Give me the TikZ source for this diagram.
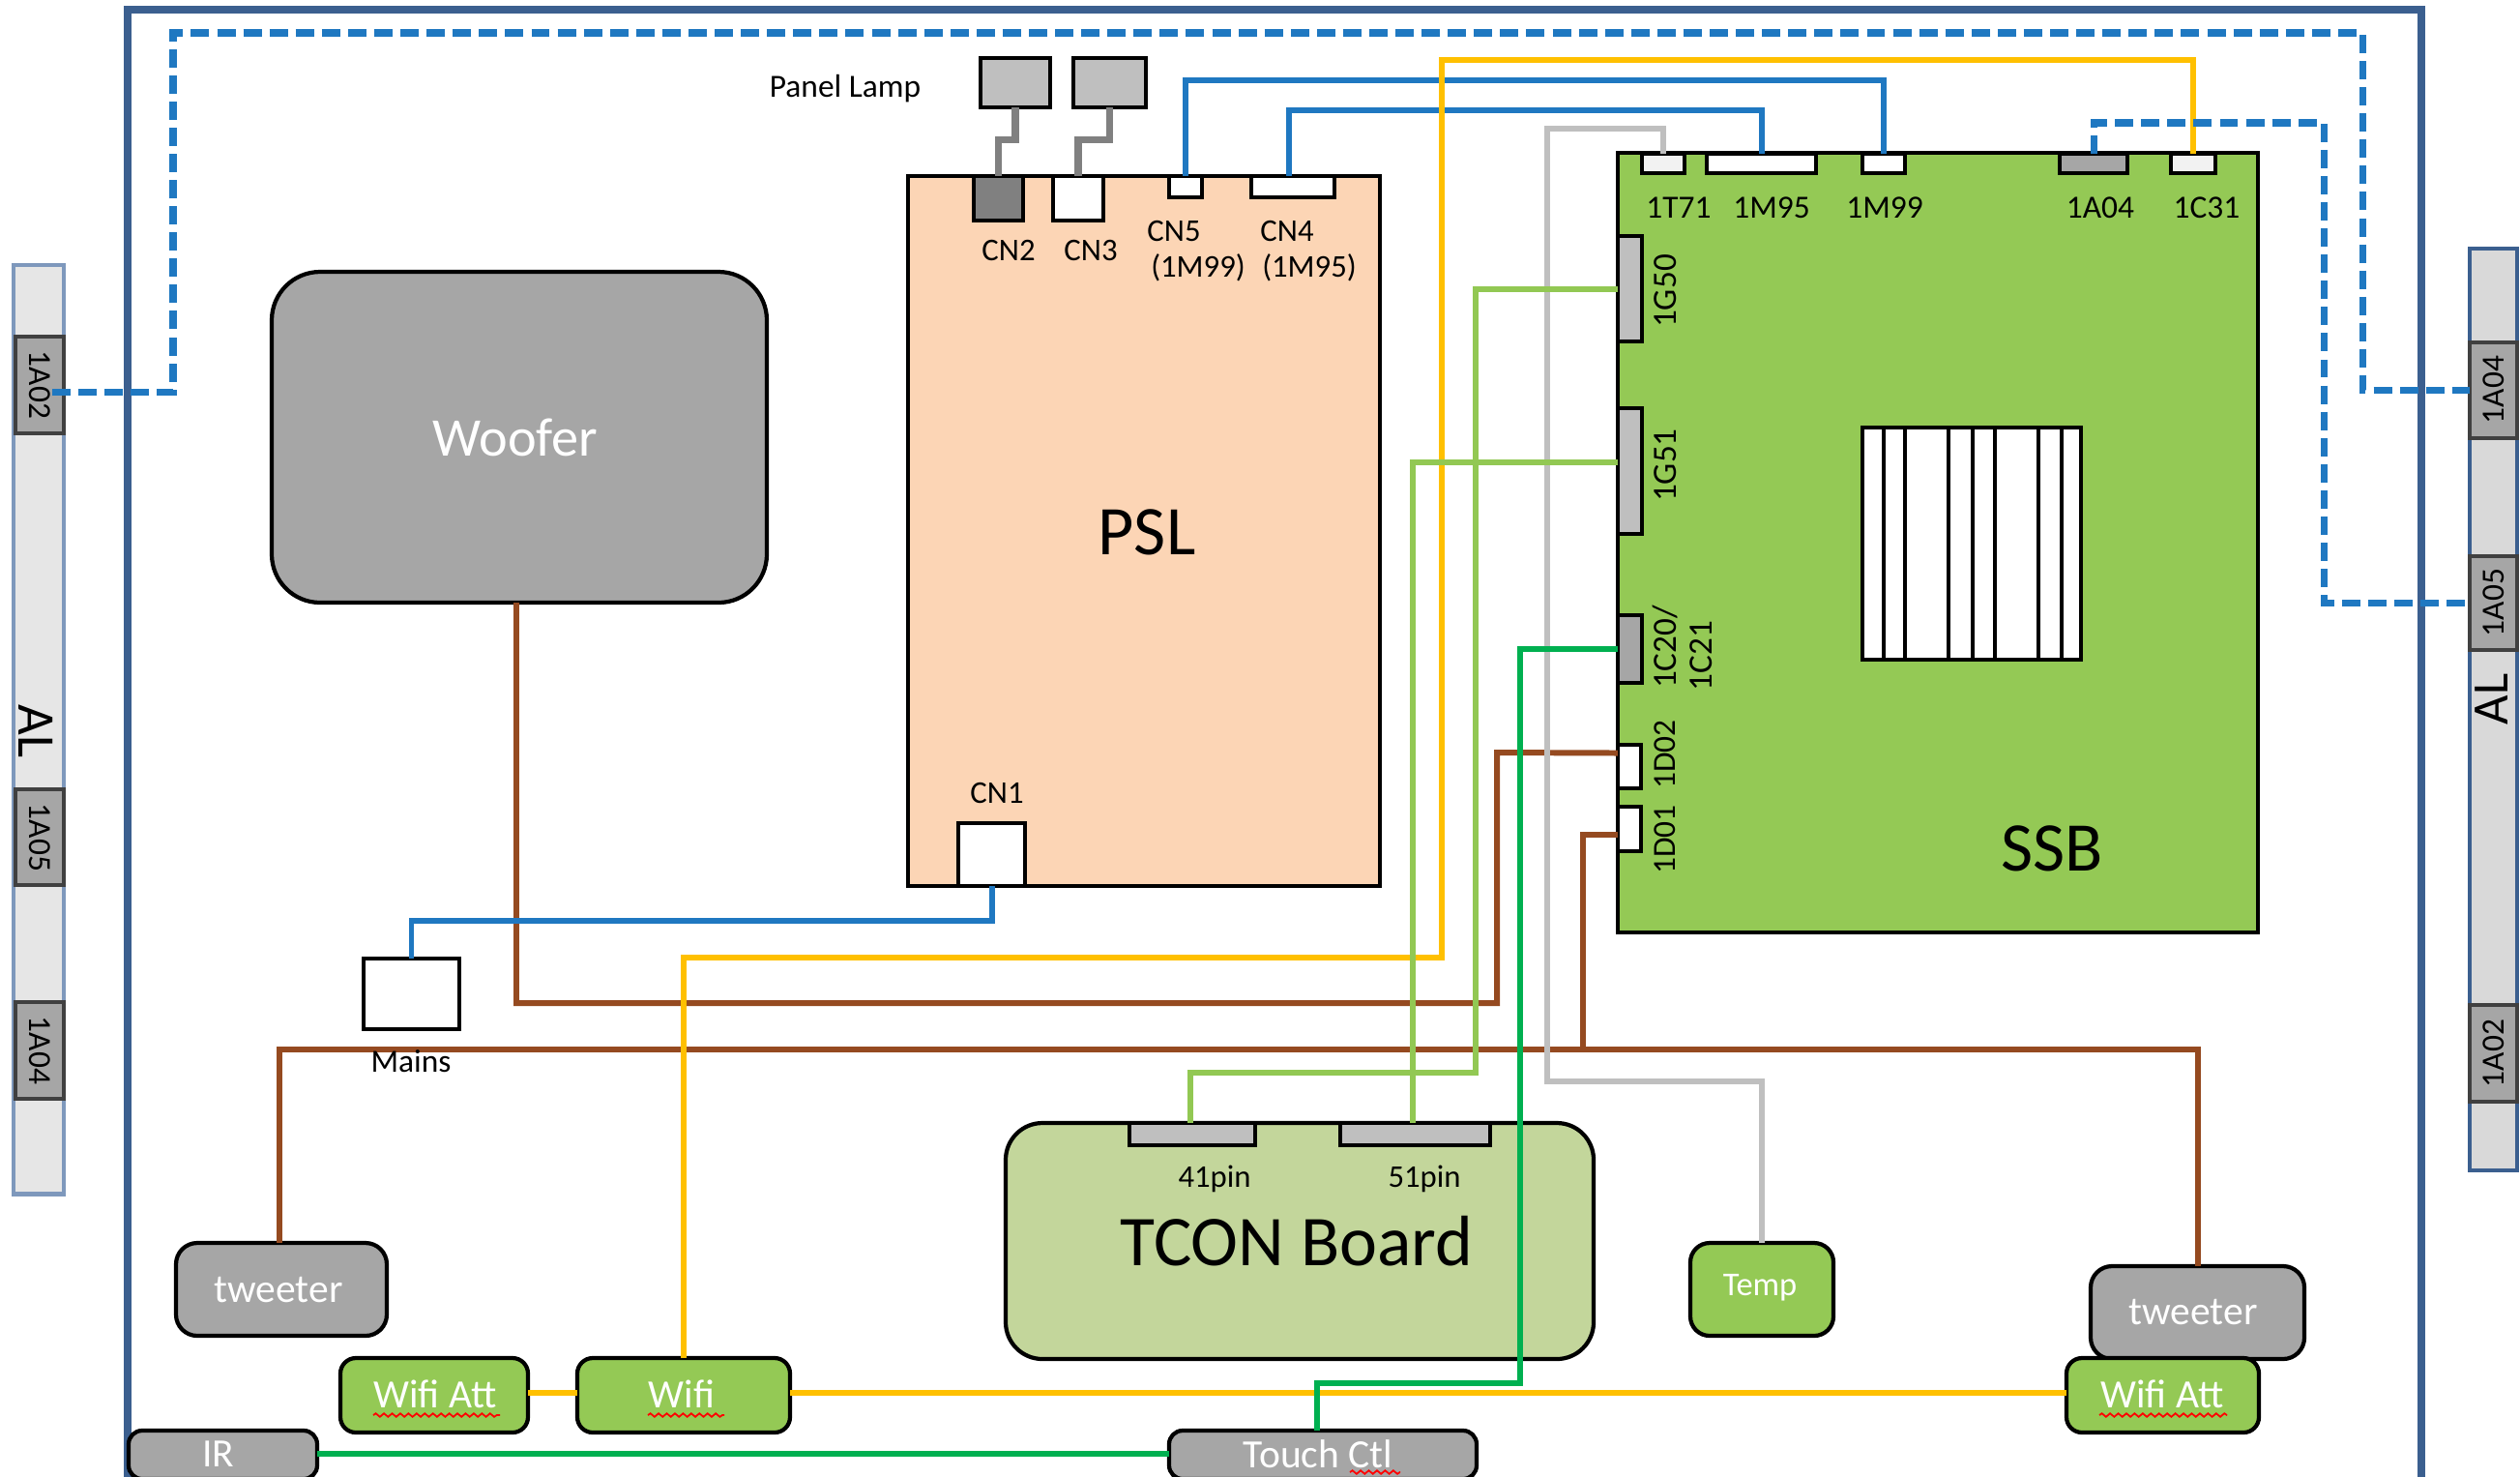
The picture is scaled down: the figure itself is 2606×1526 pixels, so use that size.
\documentclass[tikz,border=0pt]{standalone}
\usepackage{fontspec}
\setmainfont{Carlito}
\usetikzlibrary{calc,decorations.pathmorphing}
\definecolor{frameblue}{HTML}{3B5F8F}
\definecolor{barline}{HTML}{7E98BC}
\definecolor{barfillL}{HTML}{E6E6E6}
\definecolor{barfillR}{HTML}{D9D9D9}
\definecolor{wireblue}{HTML}{1F78C1}
\definecolor{wireyellow}{HTML}{FFC000}
\definecolor{wirebrown}{HTML}{954A20}
\definecolor{wirelgreen}{HTML}{92C853}
\definecolor{wiredgreen}{HTML}{00B050}
\definecolor{wiresilver}{HTML}{BFBFBF}
\definecolor{wiregray}{HTML}{808080}
\definecolor{psl}{HTML}{FCD5B5}
\definecolor{ssb}{HTML}{94C955}
\definecolor{tcon}{HTML}{C3D69B}
\definecolor{graybox}{HTML}{A6A6A6}
\definecolor{lampbox}{HTML}{BFBFBF}
\newcommand{\fz}[1]{\fontsize{#1}{#1}\selectfont}
\newcommand{\bx}[7][]{%
  \pgfmathsetmacro{\bxw}{(#5-#3)*0.01}%
  \pgfmathsetmacro{\bxh}{(#6-#4)*0.01}%
  \node[boxbase,#1,minimum width=\bxw cm,minimum height=\bxh cm] (#2) at ({(#3+#5)/2},{(#4+#6)/2}) {#7};}
\tikzset{
  boxbase/.style={draw=black,line width=1.2pt,inner sep=0pt,outer sep=0pt,align=center},
  bar/.style={draw=barline,line width=1.4pt,fill=barfillL},
  barr/.style={draw=frameblue,line width=1.2pt,fill=barfillR},
  alconn/.style={draw=black!75,line width=1.3pt,fill=graybox},
  whitebox/.style={fill=white},
  lightbox/.style={fill=black!5},
  greybox/.style={fill=graybox},
  silverbox/.style={fill=lampbox},
  unit/.style={fill=graybox,rounded corners=0.22cm,text=white,font=\fz{11.8}},
  greenunit/.style={fill=ssb,rounded corners=0.16cm,text=white,font=\fz{11.8}},
  lbl/.style={inner sep=0pt,outer sep=0pt,font=\fz{9.3}},
  rlbl/.style={lbl,rotate=90,font=\fz{10}},
  wire/.style={line width=1.7pt},
  thickwire/.style={line width=2pt},
  dashwire/.style={draw=wireblue,line width=2pt,dash pattern=on 5.4pt off 2.3pt},
  squiggle/.style={draw=red,line width=0.5pt,decorate,decoration={snake,amplitude=0.5pt,segment length=2.4pt}}
}
\begin{document}
\begin{tikzpicture}[x=0.01cm,y=-0.01cm]
\clip (0,0) rectangle (2606,1526);
\fill[white] (0,0) rectangle (2606,1526);
% outer frame
\bx[draw=frameblue,line width=2.3pt]{frame}{132}{10}{2504}{1540}{}
% AL bars
\bx[bar]{barL}{14}{274}{66}{1234}{}
\bx[alconn]{aLa}{16}{348}{66}{448}{}
\node[lbl,rotate=-90] (tLa) at (41,398) {\fz{9.5}1A02};
\bx[alconn]{aLb}{16}{816}{66}{915}{}
\node[lbl,rotate=-90] (tLb) at (41,866) {\fz{9.5}1A05};
\bx[alconn]{aLc}{16}{1036}{66}{1136}{}
\node[lbl,rotate=-90] (tLc) at (41,1086) {\fz{9.5}1A04};
\node[lbl,rotate=-90] (alL) at (37,756) {\fz{15.6}AL};
\bx[barr]{barR}{2554}{257}{2603}{1210}{}
\bx[alconn]{aRa}{2554}{354}{2603}{453}{}
\node[lbl,rotate=90] (tRa) at (2579,403) {\fz{9.5}1A04};
\bx[alconn]{aRb}{2554}{575}{2603}{672}{}
\node[lbl,rotate=90] (tRb) at (2579,623) {\fz{9.5}1A05};
\bx[alconn]{aRc}{2554}{1039}{2603}{1139}{}
\node[lbl,rotate=90] (tRc) at (2579,1089) {\fz{9.5}1A02};
\node[lbl,rotate=90] (alR) at (2577,723) {\fz{15}AL};
% Woofer
\bx[fill=graybox,rounded corners=0.5cm]{woofer}{281}{281}{793}{623}{}
\node[lbl,text=white] (woofert) at (533,452) {\fz{16}Woofer};
% Panel lamp
\node[lbl] (panel) at (874,92) {\fz{9.5}Panel Lamp};
\bx[silverbox]{lampa}{1014}{60}{1086}{111}{}
\bx[silverbox]{lampb}{1110}{60}{1185}{111}{}
% PSL
\bx[fill=psl]{pslb}{939}{182}{1427}{916}{}
\node[lbl] (pslt) at (1186,550) {\fz{20.5}PSL};
\bx[fill=wiregray]{cna}{1007}{182}{1058}{228}{}
\bx[whitebox]{cnb}{1089}{182}{1141}{228}{}
\bx[whitebox]{cnc}{1209}{182}{1243}{204}{}
\bx[whitebox]{cnd}{1294}{182}{1380}{204}{}
\bx[whitebox]{cne}{991}{851}{1060}{916}{}
\node[lbl] (ltcna) at (1043,259) {CN2};
\node[lbl] (ltcnb) at (1128,259) {CN3};
\node[lbl] (ltcnc) at (1214,239) {CN5};
\node[lbl] (ltcncb) at (1239,277) {(1M99)};
\node[lbl] (ltcnd) at (1331,239) {CN4};
\node[lbl] (ltcndb) at (1354,277) {(1M95)};
\node[lbl] (ltcne) at (1031,820) {CN1};
% SSB
\bx[fill=ssb]{ssbb}{1673}{158}{2335}{964}{}
\node[lbl] (ssbt) at (2122,877) {\fz{20.5}SSB};
\bx[lightbox]{ct}{1698}{159}{1742}{179}{}
\bx[whitebox]{cma}{1765}{159}{1878}{179}{}
\bx[whitebox]{cmb}{1926}{159}{1970}{179}{}
\bx[greybox]{caf}{2130}{159}{2200}{179}{}
\bx[lightbox]{ccf}{2245}{159}{2291}{179}{}
\node[lbl] (lct) at (1736,215) {\fz{9.5}1T71};
\node[lbl] (lcma) at (1832,215) {\fz{9.5}1M95};
\node[lbl] (lcmb) at (1949,215) {\fz{9.5}1M99};
\node[lbl] (lcaf) at (2172,215) {\fz{9.5}1A04};
\node[lbl] (lccf) at (2282,215) {\fz{9.5}1C31};
\bx[silverbox]{cga}{1673}{244}{1698}{353}{}
\bx[silverbox]{cgb}{1673}{422}{1698}{552}{}
\bx[greybox]{ccz}{1673}{636}{1698}{706}{}
\bx[whitebox]{cdb}{1673}{770}{1697}{815}{}
\bx[whitebox]{cda}{1673}{834}{1697}{880}{}
\node[rlbl] (lcga) at (1722,301) {1G50};
\node[rlbl] (lcgb) at (1722,481) {1G51};
\node[rlbl] (lcza) at (1722,669) {1C20/};
\node[rlbl] (lczb) at (1759,678) {1C21};
\node[rlbl] (lcdb) at (1722,780) {\fz{9.5}1D02};
\node[rlbl] (lcda) at (1722,868) {\fz{9.5}1D01};
% chip
\bx[whitebox]{chip}{1926}{442}{2152}{682}{}
\foreach \cx in {1948,1970,2015,2040,2063,2108,2132}
  \draw[line width=0.9pt] (\cx,442) -- (\cx,682);
% TCON
\bx[fill=tcon,rounded corners=0.38cm]{tconb}{1040}{1161}{1648}{1405}{}
\node[lbl] (tcont) at (1341,1283) {\fz{21}TCON Board};
\bx[silverbox]{pa}{1168}{1161}{1298}{1184}{}
\bx[silverbox]{pb}{1386}{1161}{1541}{1184}{}
\node[lbl] (lpa) at (1256,1219) {41pin};
\node[lbl] (lpb) at (1473,1219) {51pin};
% Mains
\bx[whitebox]{mains}{376}{991}{475}{1064}{}
% small units
\bx[unit]{twl}{182}{1285}{400}{1381}{}
\node[lbl,text=white] (twlt) at (288,1333) {\fz{11.8}tweeter};
\bx[unit]{twr}{2162}{1309}{2383}{1405}{}
\node[lbl,text=white] (twrt) at (2268,1357) {\fz{11.8}tweeter};
\bx[greenunit]{wal}{352}{1404}{546}{1481}{}
\node[lbl,text=white] (walt) at (450,1441) {\fz{11.8}Wifi Att};
\bx[greenunit]{wifi}{597}{1404}{817}{1481}{}
\node[lbl,text=white] (wifit) at (705,1441) {\fz{11.8}Wifi};
\bx[greenunit]{war}{2137}{1404}{2336}{1481}{}
\node[lbl,text=white] (wart) at (2236,1441) {\fz{11.8}Wifi Att};
\bx[greenunit,rounded corners=0.2cm]{temp}{1748}{1285}{1896}{1381}{}
\node[lbl,text=white] (tempt) at (1820,1331) {\fz{9.8}Temp};
\bx[unit,rounded corners=0.14cm]{ir}{133}{1479}{328}{1529}{}
\node[lbl,text=white] (irt) at (226,1503) {\fz{11.8}IR};
\bx[unit,rounded corners=0.14cm]{touch}{1209}{1479}{1527}{1529}{}
\node[lbl,text=white] (toucht) at (1363,1503) {\fz{11.8}Touch Ctl};
% wires
\coordinate (busj) at (1637,1085);
\draw[wire,wirebrown] ($(woofer.south)+(-3,0)$) -- (534,1037) -| (1548,778) -- ($(cdb.west)+(0,-14)$);
\draw[wire,wirebrown] ($(twl.north)+(-2,0)$) -- ++(0,-200) -| (twr.north);
\draw[wire,wirebrown] ($(cda.west)+(0,6)$) -| (busj);
\draw[wire,wireblue] (cne.south) -- ++(0,36) -| (mains.north);
\draw[wire,wireblue] (cnc.north) -- ++(0,-99) -| (cmb.north);
\draw[wire,wireblue] ($(cnd.north)+(-4,0)$) -- ++(0,-68) -| (cma.north);
\draw[wire,wireyellow] (wifi.north) |- (1491,990) -- (1491,62) -| (ccf.north);
\draw[wire,wireyellow] ($(wal.east)+(0,-3)$) -- ($(wifi.west)+(0,-3)$);
\draw[wire,wireyellow] ($(wifi.east)+(0,-3)$) -- ($(war.west)+(0,-3)$);
\draw[wire,wiresilver] (ct.north) -- ++(0,-26) -| (1600,1118) -| (temp.north);
\draw[wire,wirelgreen] (cga.west) -| (1526,1109) -| ($(pa.north)+(-2,0)$);
\draw[wire,wirelgreen] ($(cgb.west)+(0,-9)$) -| ($(pb.north)+(-3,0)$);
\draw[wire,wiredgreen] (ccz.west) -| (1572,1430) -| ($(touch.north)+(-6,0)$);
\draw[wire,wiredgreen] ($(ir.east)+(0,-1)$) -- ($(touch.west)+(0,-1)$);
\draw[thickwire,wiregray] (lampa.south) -- ++(0,33) -| (cna.north);
\draw[thickwire,wiregray] (lampb.south) -- ++(0,33) -| (cnb.north);
\draw[dashwire] ($(aLa.east)+(-12,7)$) -| (179,34) -- (2443,34) |- (aRa.west);
\draw[dashwire] (caf.north) -- (2165,127) -- (2403,127) |- (aRb.west);
% Mains label, drawn over the bus
\node[lbl] (lmains) at (425,1097) {\fz{9.5}Mains};
% spell-check underlines
\draw[squiggle] (386,1463) -- (517,1463);
\draw[squiggle] (670,1463) -- (749,1463);
\draw[squiggle] (2171,1463) -- (2303,1463);
\draw[squiggle] (1396,1522) -- (1448,1522);
\end{tikzpicture}
\end{document}
